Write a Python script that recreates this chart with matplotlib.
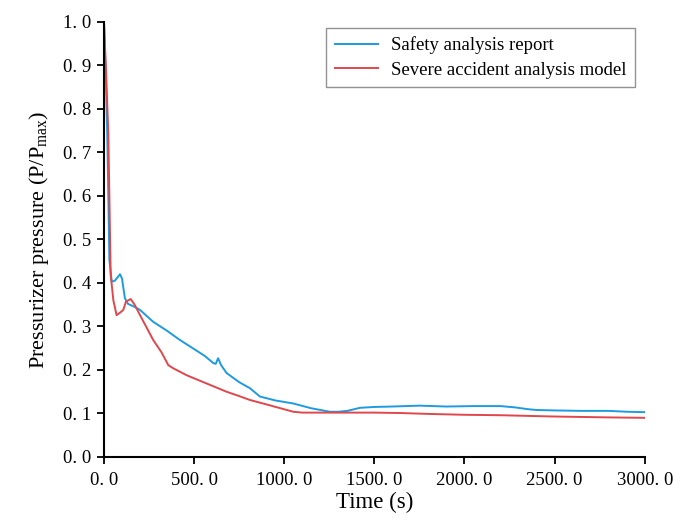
import matplotlib
matplotlib.use("Agg")
import matplotlib.pyplot as plt
import numpy as np

# Safety analysis report (blue)
t_safety = [0, 10, 18, 25, 30, 43, 60, 89, 100, 116, 133, 170, 200, 272, 350, 421, 500, 560, 606, 620, 633, 650, 680, 750, 810, 865, 950, 1050, 1150, 1253, 1300, 1350, 1420, 1500, 1600, 1750, 1900, 2050, 2200, 2280, 2350, 2400, 2500, 2650, 2800, 2900, 3000]
v_safety = [1.0, 0.88, 0.745, 0.58, 0.453, 0.403, 0.405, 0.42, 0.41, 0.365, 0.352, 0.345, 0.338, 0.311, 0.29, 0.269, 0.248, 0.232, 0.216, 0.214, 0.227, 0.211, 0.193, 0.172, 0.158, 0.139, 0.13, 0.123, 0.112, 0.104, 0.104, 0.106, 0.113, 0.115, 0.116, 0.118, 0.116, 0.117, 0.117, 0.114, 0.110, 0.108, 0.107, 0.106, 0.106, 0.104, 0.103]

# Severe accident analysis model (red)
t_severe = [0, 12, 24, 37, 52, 70, 90, 107, 122, 148, 170, 200, 273, 320, 357, 384, 458, 569, 680, 750, 810, 900, 1050, 1100, 1300, 1500, 1650, 1800, 2000, 2200, 2500, 2800, 3000]
v_severe = [1.0, 0.88, 0.745, 0.42, 0.36, 0.326, 0.332, 0.338, 0.357, 0.363, 0.35, 0.326, 0.269, 0.24, 0.211, 0.204, 0.188, 0.169, 0.150, 0.140, 0.131, 0.121, 0.104, 0.102, 0.102, 0.102, 0.101, 0.099, 0.097, 0.096, 0.093, 0.091, 0.090]

x_ticks = [0, 500, 1000, 1500, 2000, 2500, 3000]
x_labels = ["0. 0", "500. 0", "1000. 0", "1500. 0", "2000. 0", "2500. 0", "3000. 0"]
y_ticks = [0.0, 0.1, 0.2, 0.3, 0.4, 0.5, 0.6, 0.7, 0.8, 0.9, 1.0]
y_labels = ["0. 0", "0. 1", "0. 2", "0. 3", "0. 4", "0. 5", "0. 6", "0. 7", "0. 8", "0. 9", "1. 0"]

plt.rcParams['font.family'] = ['Liberation Serif', 'DejaVu Serif']
plt.rcParams['mathtext.fontset'] = 'custom'
plt.rcParams['mathtext.rm'] = 'Liberation Serif'
plt.rcParams['mathtext.it'] = 'Liberation Serif:italic'

fig = plt.figure(figsize=(6.73, 5.23), dpi=100)
ax = fig.add_axes([0.1545, 0.1262, 0.8035, 0.832])

ax.plot(t_safety, v_safety, color='#1E9BE0', lw=1.4, label='Safety analysis report')
ax.plot(t_severe, v_severe, color='#E0474C', lw=1.4, label='Severe accident analysis model')

ax.set_xlim(0, 3000)
ax.set_ylim(0, 1.0)
ax.set_xticks(x_ticks)
ax.set_xticklabels(x_labels)
ax.set_yticks(y_ticks)
ax.set_yticklabels(y_labels)
ax.tick_params(direction='out', length=5, width=1.3, labelsize=13.5, colors='black', pad=4)
ax.tick_params(axis='x', pad=6)
for s in ['top', 'right']:
    ax.spines[s].set_visible(False)
for s in ['left', 'bottom']:
    ax.spines[s].set_linewidth(1.5)

ax.set_xlabel('Time (s)', fontsize=16.5, labelpad=2)
ax.set_ylabel(r'Pressurizer pressure (P/P$_{\mathrm{max}}$)', fontsize=16, labelpad=9)

leg = ax.legend(loc='upper right', bbox_to_anchor=(0.9815, 0.986), borderaxespad=0, fontsize=13.5,
                frameon=True, fancybox=False, edgecolor='#777777', handlelength=2.3, handletextpad=0.7,
                borderpad=0.45, labelspacing=0.4)
leg.get_frame().set_linewidth(1.0)

fig.savefig('out.png', dpi=100)
